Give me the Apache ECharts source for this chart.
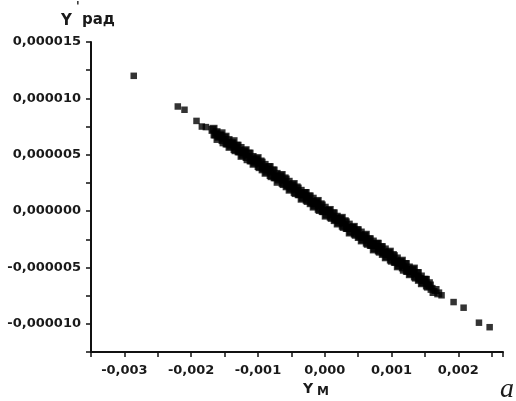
<!DOCTYPE html>
<html>
<head>
<meta charset="utf-8">
<script src="https://cdn.jsdelivr.net/npm/echarts@6/dist/echarts.min.js"></script>
<style>
html,body{margin:0;padding:0;background:#fff;}
#chart{width:516px;height:401px;}
</style>
</head>
<body>
<div id="chart"></div>
<script>
// Isolated points (x = Y_M, y = Y', rad)
const outlierPoints = [
  [-2.86e-3, 12.0e-6], [-2.20e-3, 9.28e-6], [-2.10e-3, 8.99e-6],
  [-1.92e-3, 8.0e-6], [-1.84e-3, 7.5e-6], [-1.78e-3, 7.45e-6],
  [1.75e-3, -7.47e-6], [1.93e-3, -8.07e-6], [2.08e-3, -8.57e-6],
  [2.31e-3, -9.9e-6], [2.47e-3, -10.3e-6]
];
// Dense band, first row
const bandPoints = [
  [-1.68e-3, 7.2e-6], [-1.65e-3, 6.8e-6], [-1.62e-3, 7.0e-6], [-1.59e-3, 6.6e-6],
  [-1.56e-3, 6.7e-6], [-1.53e-3, 6.3e-6], [-1.50e-3, 6.5e-6], [-1.47e-3, 6.0e-6],
  [-1.44e-3, 6.3e-6], [-1.41e-3, 5.8e-6], [-1.38e-3, 6.0e-6], [-1.35e-3, 5.5e-6],
  [-1.32e-3, 5.8e-6], [-1.29e-3, 5.3e-6], [-1.26e-3, 5.6e-6], [-1.23e-3, 5.0e-6],
  [-1.20e-3, 5.3e-6], [-1.17e-3, 4.8e-6], [-1.14e-3, 5.1e-6], [-1.11e-3, 4.5e-6],
  [-1.08e-3, 4.8e-6], [-1.05e-3, 4.3e-6], [-1.02e-3, 4.6e-6], [-0.99e-3, 4.0e-6],
  [-0.96e-3, 4.4e-6], [-0.93e-3, 3.7e-6], [-0.90e-3, 4.1e-6], [-0.87e-3, 3.5e-6],
  [-0.84e-3, 3.9e-6], [-0.81e-3, 3.2e-6], [-0.78e-3, 3.6e-6], [-0.75e-3, 3.0e-6],
  [-0.72e-3, 3.3e-6], [-0.69e-3, 2.8e-6], [-0.66e-3, 3.1e-6], [-0.63e-3, 2.5e-6],
  [-0.60e-3, 2.9e-6], [-0.57e-3, 2.2e-6], [-0.54e-3, 2.6e-6], [-0.51e-3, 2.0e-6],
  [-0.48e-3, 2.3e-6], [-0.45e-3, 1.7e-6], [-0.42e-3, 2.1e-6], [-0.39e-3, 1.5e-6],
  [-0.36e-3, 1.8e-6], [-0.33e-3, 1.2e-6], [-0.30e-3, 1.6e-6], [-0.27e-3, 1.0e-6],
  [-0.24e-3, 1.3e-6], [-0.21e-3, 0.7e-6], [-0.18e-3, 1.1e-6], [-0.15e-3, 0.5e-6],
  [-0.12e-3, 0.8e-6], [-0.09e-3, 0.2e-6], [-0.06e-3, 0.6e-6], [-0.03e-3, 0.0e-6],
  [0.00e-3, 0.3e-6], [0.03e-3, -0.3e-6], [0.06e-3, 0.0e-6], [0.09e-3, -0.5e-6],
  [0.12e-3, -0.2e-6], [0.15e-3, -0.8e-6], [0.18e-3, -0.5e-6], [0.21e-3, -1.0e-6],
  [0.24e-3, -0.7e-6], [0.27e-3, -1.3e-6], [0.30e-3, -0.9e-6], [0.33e-3, -1.5e-6],
  [0.36e-3, -1.2e-6], [0.39e-3, -1.8e-6], [0.42e-3, -1.5e-6], [0.45e-3, -2.0e-6],
  [0.48e-3, -1.7e-6], [0.51e-3, -2.3e-6], [0.54e-3, -1.9e-6], [0.57e-3, -2.5e-6],
  [0.60e-3, -2.2e-6], [0.63e-3, -2.8e-6], [0.66e-3, -2.5e-6], [0.69e-3, -3.0e-6],
  [0.72e-3, -2.7e-6], [0.75e-3, -3.3e-6], [0.78e-3, -2.9e-6], [0.81e-3, -3.5e-6],
  [0.84e-3, -3.2e-6], [0.87e-3, -3.8e-6], [0.90e-3, -3.4e-6], [0.93e-3, -4.0e-6],
  [0.96e-3, -3.7e-6], [0.99e-3, -4.3e-6], [1.02e-3, -3.9e-6], [1.05e-3, -4.5e-6],
  [1.08e-3, -4.2e-6], [1.11e-3, -4.8e-6], [1.14e-3, -4.5e-6], [1.17e-3, -5.0e-6],
  [1.20e-3, -4.7e-6], [1.23e-3, -5.3e-6], [1.26e-3, -5.0e-6], [1.29e-3, -5.5e-6],
  [1.32e-3, -5.2e-6], [1.35e-3, -5.8e-6], [1.38e-3, -5.5e-6], [1.41e-3, -6.1e-6],
  [1.44e-3, -5.8e-6], [1.47e-3, -6.3e-6], [1.50e-3, -6.1e-6], [1.53e-3, -6.6e-6],
  [1.56e-3, -6.4e-6], [1.60e-3, -6.9e-6], [1.63e-3, -7.18e-6], [1.66e-3, -7.0e-6],
  [1.70e-3, -7.3e-6]
];
// Dense band, second row (interleaved)
const bandPoints2 = [
  [-1.665e-3, 7.3e-6], [-1.635e-3, 6.8e-6], [-1.605e-3, 6.4e-6], [-1.575e-3, 6.7e-6],
  [-1.545e-3, 6.9e-6], [-1.515e-3, 6.1e-6], [-1.485e-3, 6.6e-6], [-1.455e-3, 6.0e-6],
  [-1.425e-3, 5.7e-6], [-1.395e-3, 6.0e-6], [-1.365e-3, 6.2e-6], [-1.335e-3, 5.4e-6],
  [-1.305e-3, 5.8e-6], [-1.275e-3, 5.3e-6], [-1.245e-3, 4.9e-6], [-1.215e-3, 5.2e-6],
  [-1.185e-3, 5.4e-6], [-1.155e-3, 4.6e-6], [-1.125e-3, 5.1e-6], [-1.095e-3, 4.5e-6],
  [-1.065e-3, 4.2e-6], [-1.035e-3, 4.5e-6], [-1.005e-3, 4.7e-6], [-0.975e-3, 3.9e-6],
  [-0.945e-3, 4.3e-6], [-0.915e-3, 3.8e-6], [-0.885e-3, 3.4e-6], [-0.855e-3, 3.7e-6],
  [-0.825e-3, 3.9e-6], [-0.795e-3, 3.1e-6], [-0.765e-3, 3.6e-6], [-0.735e-3, 3.0e-6],
  [-0.705e-3, 2.6e-6], [-0.675e-3, 3.0e-6], [-0.645e-3, 3.2e-6], [-0.615e-3, 2.4e-6],
  [-0.585e-3, 2.8e-6], [-0.555e-3, 2.3e-6], [-0.525e-3, 1.9e-6], [-0.495e-3, 2.2e-6],
  [-0.465e-3, 2.4e-6], [-0.435e-3, 1.6e-6], [-0.405e-3, 2.0e-6], [-0.375e-3, 1.5e-6],
  [-0.345e-3, 1.1e-6], [-0.315e-3, 1.5e-6], [-0.285e-3, 1.6e-6], [-0.255e-3, 0.9e-6],
  [-0.225e-3, 1.3e-6], [-0.195e-3, 0.8e-6], [-0.165e-3, 0.4e-6], [-0.135e-3, 0.7e-6],
  [-0.105e-3, 0.9e-6], [-0.075e-3, 0.1e-6], [-0.045e-3, 0.5e-6], [-0.015e-3, 0.0e-6],
  [0.015e-3, -0.4e-6], [0.045e-3, 0.0e-6], [0.075e-3, 0.1e-6], [0.105e-3, -0.6e-6],
  [0.135e-3, -0.2e-6], [0.165e-3, -0.7e-6], [0.195e-3, -1.1e-6], [0.225e-3, -0.8e-6],
  [0.255e-3, -0.6e-6], [0.285e-3, -1.4e-6], [0.315e-3, -1.0e-6], [0.345e-3, -1.5e-6],
  [0.375e-3, -1.9e-6], [0.405e-3, -1.5e-6], [0.435e-3, -1.4e-6], [0.465e-3, -2.1e-6],
  [0.495e-3, -1.7e-6], [0.525e-3, -2.2e-6], [0.555e-3, -2.6e-6], [0.585e-3, -2.3e-6],
  [0.615e-3, -2.1e-6], [0.645e-3, -2.9e-6], [0.675e-3, -2.5e-6], [0.705e-3, -3.0e-6],
  [0.735e-3, -3.4e-6], [0.765e-3, -3.0e-6], [0.795e-3, -2.9e-6], [0.825e-3, -3.6e-6],
  [0.855e-3, -3.2e-6], [0.885e-3, -3.7e-6], [0.915e-3, -4.1e-6], [0.945e-3, -3.8e-6],
  [0.975e-3, -3.6e-6], [1.005e-3, -4.4e-6], [1.035e-3, -4.0e-6], [1.065e-3, -4.5e-6],
  [1.095e-3, -4.9e-6], [1.125e-3, -4.6e-6], [1.155e-3, -4.4e-6], [1.185e-3, -5.2e-6],
  [1.215e-3, -4.7e-6], [1.245e-3, -5.3e-6], [1.275e-3, -5.6e-6], [1.305e-3, -5.3e-6],
  [1.335e-3, -5.1e-6], [1.365e-3, -5.9e-6], [1.395e-3, -5.5e-6], [1.425e-3, -6.0e-6],
  [1.455e-3, -6.4e-6], [1.485e-3, -6.1e-6], [1.515e-3, -6.1e-6], [1.545e-3, -6.7e-6],
  [1.575e-3, -6.6e-6]
];
const xMin = -0.0035, xMax = 0.00267, xStep = 0.0005, xLabelStep = 0.001;
const yMin = -0.0000125, yMax = 0.000015, yStep = 0.0000025, yLabelStep = 0.000005;

const FONT = 'DejaVu Sans';
function isMultiple(v, step) {
  const k = Math.round(v / step);
  return Math.abs(k * step - v) < step * 1e-6;
}
function fmt(v, step, digits) {
  if (!isMultiple(v, step)) return '';
  let s = (Math.round(v / step) * step).toFixed(digits).replace('.', ',');
  if (/^-0,0+$/.test(s)) s = s.slice(1);
  return s;
}

const chart = echarts.init(document.getElementById('chart'), null, {renderer: 'canvas'});
const labelStyle = {color: '#1a1a1a', fontFamily: FONT, fontWeight: 'bold', fontSize: 13};
chart.setOption({
  animation: false,
  backgroundColor: '#fff',
  grid: {left: 91, right: 13, top: 42, bottom: 49, containLabel: false},
  xAxis: {
    type: 'value', min: xMin, max: xMax, interval: xStep,
    axisLine: {show: true, onZero: false, lineStyle: {color: '#111', width: 2}},
    axisTick: {show: true, inside: false, length: 5, lineStyle: {color: '#111', width: 1.5}},
    splitLine: {show: false},
    axisLabel: Object.assign({margin: 12, formatter: v => fmt(v, xLabelStep, 3), showMinLabel: true, showMaxLabel: true, hideOverlap: false}, labelStyle)
  },
  yAxis: {
    type: 'value', min: yMin, max: yMax, interval: yStep,
    axisLine: {show: true, onZero: false, lineStyle: {color: '#111', width: 2}},
    axisTick: {show: true, inside: false, length: 5, lineStyle: {color: '#111', width: 1.5}},
    splitLine: {show: false},
    axisLabel: Object.assign({margin: 10, formatter: v => fmt(v, yLabelStep, 6), showMinLabel: true, showMaxLabel: true, hideOverlap: false}, labelStyle)
  },
  series: [
    {type: 'scatter', data: bandPoints, symbol: 'rect', symbolSize: 8, itemStyle: {color: '#000'}},
    {type: 'scatter', data: bandPoints2, symbol: 'rect', symbolSize: 8, itemStyle: {color: '#000'}},
    {type: 'scatter', data: outlierPoints, symbol: 'rect', symbolSize: 6.5, itemStyle: {color: '#000'}}
  ],
  graphic: [
    {type: 'text', left: 61, top: 14, style: {text: 'Y', font: 'bold 15px "DejaVu Sans"', fill: '#1a1a1a'}},
    {type: 'text', left: 76, top: 1, style: {text: "'", font: 'bold 12px "DejaVu Sans"', fill: '#1a1a1a'}},
    {type: 'text', left: 82, top: 13, style: {text: 'рад', font: 'bold 15px "DejaVu Sans"', fill: '#1a1a1a'}},
    {type: 'text', left: 303, top: 382, style: {text: 'Y', font: 'bold 14px "DejaVu Sans"', fill: '#1a1a1a'}},
    {type: 'text', left: 317, top: 386, style: {text: 'M', font: 'bold 12px "DejaVu Sans"', fill: '#1a1a1a'}},
    {type: 'text', left: 500, top: 376, style: {text: 'a', font: 'italic 28px "Liberation Serif"', fill: '#1a1a1a'}}
  ]
});
</script>
</body>
</html>
